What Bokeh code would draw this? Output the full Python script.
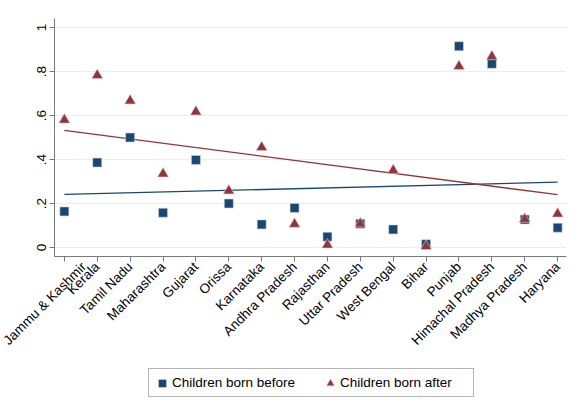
import math
from bokeh.plotting import figure
from bokeh.layouts import column
from bokeh.models import Range1d, FixedTicker, Legend, LegendItem
from bokeh.embed import file_html
from bokeh.resources import INLINE

states = ["Jammu & Kashmir", "Kerala", "Tamil Nadu", "Maharashtra", "Gujarat",
          "Orissa", "Karnataka", "Andhra Pradesh", "Rajasthan", "Uttar Pradesh",
          "West Bengal", "Bihar", "Punjab", "Himachal Pradesh", "Madhya Pradesh",
          "Haryana"]
born_before = [0.164, 0.386, 0.500, 0.158, 0.398, 0.200, 0.105, 0.180, 0.049,
               0.108, 0.082, 0.015, 0.915, 0.835, 0.127, 0.090]
born_after = [0.580, 0.783, 0.667, 0.335, 0.617, 0.258, 0.455, 0.106, 0.012,
              0.108, 0.351, 0.005, 0.824, 0.868, 0.129, 0.153]
# fitted lines (start and end values)
fit_before = [0.241, 0.297]
fit_after = [0.532, 0.240]
y_ticks = [0, 0.2, 0.4, 0.6, 0.8, 1]
y_tick_labels = ["0", ".2", ".4", ".6", ".8", "1"]
series_names = ["Children born before", "Children born after"]

BLUE = "#1a476f"
RED = "#90353b"
FONT = "Liberation Sans"
LABEL_SIZE = "13.5px"

x = list(range(len(states)))

p = figure(width=579, height=360, output_backend="svg", toolbar_location=None,
           x_range=Range1d(-0.3, 15.27), y_range=Range1d(-0.041, 1.041),
           min_border_left=54, min_border_right=13, min_border_top=18,
           min_border_bottom=104)
p.outline_line_color = None
p.background_fill_color = "white"
p.border_fill_color = "white"
p.xgrid.grid_line_color = None
p.ygrid.grid_line_color = "#e6eff1"
p.ygrid.grid_line_width = 1
p.ygrid.ticker = FixedTicker(ticks=y_ticks)

# fit lines
p.line([x[0], x[-1]], fit_before, line_color=BLUE, line_width=1.3)
p.line([x[0], x[-1]], fit_after, line_color=RED, line_width=1.3)

p.scatter(x, born_before, marker="square", size=9, fill_color=BLUE,
          line_color="#c9d6e3", line_width=0.6)
p.scatter(x, born_after, marker="triangle", size=11, fill_color=RED,
          line_color="#e3c8ca", line_width=0.6)

# x axis
xa = p.xaxis[0]
xa.ticker = FixedTicker(ticks=x)
xa.major_label_overrides = {i: s for i, s in enumerate(states)}
xa.major_label_orientation = math.pi / 4
xa.major_label_text_font = FONT
xa.major_label_text_font_size = LABEL_SIZE
xa.major_label_text_color = "black"
xa.major_label_standoff = 3
xa.minor_tick_line_color = None
xa.axis_line_color = "#7a7a7a"
xa.major_tick_line_color = "#7a7a7a"
xa.major_tick_out = 5
xa.major_tick_in = 0

ya = p.yaxis[0]
ya.ticker = FixedTicker(ticks=y_ticks)
ya.major_label_overrides = {t: l for t, l in zip(y_ticks, y_tick_labels)}
ya.major_label_orientation = "vertical"
ya.major_label_text_font = FONT
ya.major_label_text_font_size = LABEL_SIZE
ya.major_label_text_color = "black"
ya.major_label_standoff = 3
ya.minor_tick_line_color = None
ya.axis_line_color = "#7a7a7a"
ya.major_tick_line_color = "#7a7a7a"
ya.major_tick_out = 5
ya.major_tick_in = 0

# legend strip below the chart (frame aligned with the chart above)
q = figure(width=579, height=56, output_backend="svg", toolbar_location=None,
           x_range=Range1d(0, 1), y_range=Range1d(0, 1),
           x_axis_location=None, y_axis_location=None,
           min_border_left=54, min_border_right=13, min_border_top=0,
           min_border_bottom=0)
q.outline_line_color = None
q.xgrid.grid_line_color = None
q.ygrid.grid_line_color = None
q.border_fill_color = "white"
nan = float("nan")
lsq = q.scatter([nan], [nan], marker="square", size=9, fill_color=BLUE,
                line_color="#c9d6e3", line_width=0.6)
ltri = q.scatter([nan], [nan], marker="triangle", size=11, fill_color=RED,
                 line_color="#e3c8ca", line_width=0.6)

legend = Legend(items=[LegendItem(label=series_names[0], renderers=[lsq]),
                       LegendItem(label=series_names[1], renderers=[ltri])],
                orientation="horizontal", location=(94, 19),
                border_line_color="#6b6b6b", border_line_width=1,
                background_fill_color="white", background_fill_alpha=1,
                padding=3, spacing=18, glyph_width=20, glyph_height=20,
                label_standoff=0, label_width=130, label_height=21,
                label_text_font=FONT, label_text_font_size=LABEL_SIZE,
                label_text_color="black", margin=0)
q.add_layout(legend, "center")

layout = column(p, q, spacing=0)
open("out.html", "w").write(file_html(layout, INLINE))
